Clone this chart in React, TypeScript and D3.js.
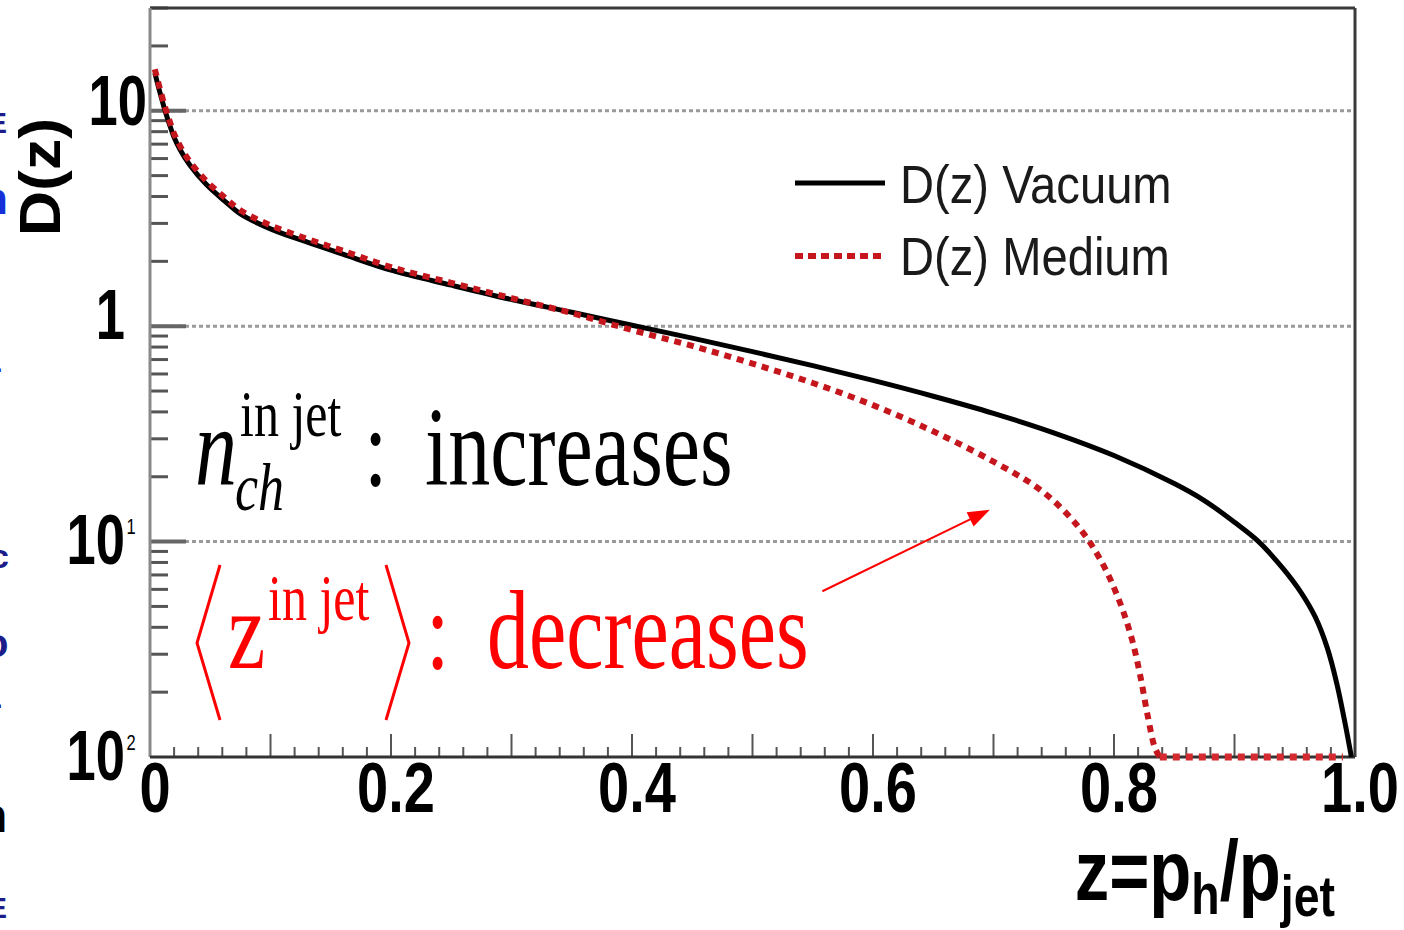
import React from "react";
import * as d3 from "d3";

// fragmentation function D(z), vacuum vs medium
const zVacuum = [
  0.004, 0.008, 0.0125, 0.0159, 0.0197, 0.0249, 0.033, 0.047, 0.062, 0.075, 0.1, 0.13, 0.16,
  0.2, 0.25, 0.3, 0.35, 0.4, 0.45, 0.5, 0.55, 0.6, 0.65, 0.7, 0.75, 0.8, 0.85, 0.875, 0.9, 0.92,
  0.94, 0.955, 0.967, 0.977, 0.985, 0.992, 0.997,
];
const dVacuum = [
  15.0, 12.3, 10.0, 8.73, 7.6, 6.61, 5.6, 4.53, 3.81, 3.32, 2.83, 2.46, 2.16, 1.82, 1.55, 1.33,
  1.16, 1.01, 0.88, 0.762, 0.656, 0.56, 0.473, 0.394, 0.32, 0.251, 0.186, 0.155, 0.123, 0.1,
  0.0753, 0.0583, 0.0447, 0.0321, 0.0218, 0.0141, 0.01,
];
const zMedium = [
  0.004, 0.008, 0.0125, 0.0159, 0.0197, 0.0249, 0.033, 0.047, 0.062, 0.075, 0.1, 0.13, 0.16,
  0.2, 0.25, 0.3, 0.35, 0.4, 0.45, 0.5, 0.55, 0.6, 0.65, 0.7, 0.74, 0.77, 0.79, 0.805, 0.815,
  0.822, 0.828, 0.834, 0.838, 0.99,
];
const dMedium = [
  15.6, 12.8, 10.4, 9.08, 7.9, 6.87, 5.82, 4.71, 3.96, 3.45, 2.94, 2.55, 2.24, 1.88, 1.59, 1.35,
  1.15, 0.96, 0.81, 0.67, 0.545, 0.43, 0.325, 0.235, 0.172, 0.118, 0.08, 0.052, 0.035, 0.0235,
  0.0155, 0.011, 0.01, 0.01,
];

const xTickValues = [0, 0.2, 0.4, 0.6, 0.8, 1.0];
const xTickLabels = ["0", "0.2", "0.4", "0.6", "0.8", "1.0"];
const yDecades = [10, 1, 0.1, 0.01];
const yDecadeBase = ["10", "1", "10", "10"];
const yDecadeSup = ["", "", "1", "2"];
const legendLabels = ["D(z) Vacuum", "D(z) Medium"];
// arrow in data units: [z, D]
const arrowFrom = [0.558, 0.0588];
const arrowTo = [0.697, 0.1406];

// cropped slide text on the far left edge
const edgeChars = ["E", "n", "-", "c", "o", "-", "n", "E"];
const edgeColors = ["#1c1c8a", "#1530d8", "#1530d8", "#1c1c8a", "#1c1c8a", "#1c1c8a", "#000", "#1c1c8a"];

const W = 1404;
const H = 930;
const left = 150;
const right = 1355;
const top = 8;
const bottom = 757;

const sans = "'Liberation Sans', Arial, sans-serif";
const serif = "'Liberation Serif', 'Times New Roman', serif";
const red = "#ff0000";

export default function App() {
  const x = d3.scaleLinear().domain([0, 1]).range([left, right]);
  const y = d3.scaleLog().domain([0.01, 30]).range([bottom, top]);

  const line = d3
    .line<[number, number]>()
    .x((d) => x(d[0]))
    .y((d) => y(d[1]))
    .curve(d3.curveCatmullRom.alpha(0.5));
  const straight = d3
    .line<[number, number]>()
    .x((d) => x(d[0]))
    .y((d) => y(d[1]));

  const vac = zVacuum.map((z, i) => [z, dVacuum[i]] as [number, number]);
  const med = zMedium.map((z, i) => [z, dMedium[i]] as [number, number]);
  // medium sits on the lower edge after it hits the axis minimum
  const medCurve = med.slice(0, med.length - 1);
  const medFlat = med.slice(med.length - 2);

  const minorY: number[] = [];
  [0.01, 0.1, 1, 10].forEach((d) => {
    for (let k = 2; k <= 9; k++) if (k * d <= 30) minorY.push(k * d);
  });
  const xTicks = d3.range(0, 51);

  const ax0 = x(arrowFrom[0]);
  const ay0 = y(arrowFrom[1]);
  const ax1 = x(arrowTo[0]);
  const ay1 = y(arrowTo[1]);
  const ang = Math.atan2(ay1 - ay0, ax1 - ax0);
  const hl = 22;
  const hw = 8;
  const head = [
    [ax1, ay1],
    [ax1 - hl * Math.cos(ang) + hw * Math.sin(ang), ay1 - hl * Math.sin(ang) - hw * Math.cos(ang)],
    [ax1 - hl * Math.cos(ang) - hw * Math.sin(ang), ay1 - hl * Math.sin(ang) + hw * Math.cos(ang)],
  ]
    .map((p) => p.join(","))
    .join(" ");

  const labelNudge = [14, 13, 22, 23];
  const labelRight = [147, 125, 125, 125];
  const edgeY = [133, 214, 378, 568, 657, 714, 832, 918];
  const edgeX = [-13, -19, -8, -10, -16, -8, -22, -13];
  const edgeSize = [30, 44, 30, 34, 40, 30, 48, 30];

  return (
    <svg
      width={W}
      height={H}
      style={{ position: "absolute", left: 0, top: 0, background: "#fff" }}
    >
      <rect x={0} y={0} width={W} height={H} fill="#fff" />

      {edgeChars.map((c, i) => (
        <text
          key={"e" + i}
          x={edgeX[i]}
          y={edgeY[i]}
          fontFamily={sans}
          fontWeight="bold"
          fontSize={edgeSize[i]}
          fill={edgeColors[i]}
        >
          {c}
        </text>
      ))}

      {/* grid lines at decades */}
      {yDecades.slice(0, 3).map((v) => (
        <line
          key={"g" + v}
          x1={left}
          x2={right}
          y1={y(v)}
          y2={y(v)}
          stroke="#9a9a9a"
          strokeWidth={3}
          strokeDasharray="4,3"
        />
      ))}

      {/* y ticks */}
      {minorY.map((v) => (
        <line key={"my" + v} x1={left} x2={left + 18} y1={y(v)} y2={y(v)} stroke="#555" strokeWidth={3} />
      ))}
      {yDecades.slice(0, 3).map((v) => (
        <line key={"My" + v} x1={left} x2={left + 36} y1={y(v)} y2={y(v)} stroke="#666" strokeWidth={4} />
      ))}

      {/* x ticks */}
      {xTicks.map((i) => (
        <line
          key={"xt" + i}
          x1={x(i * 0.02)}
          x2={x(i * 0.02)}
          y1={bottom}
          y2={bottom - (i % 5 === 0 ? 23 : 10)}
          stroke="#555"
          strokeWidth={2}
        />
      ))}

      {/* frame */}
      <line x1={left} x2={right} y1={top} y2={top} stroke="#3a3a3a" strokeWidth={3} />
      <line x1={right} x2={right} y1={top} y2={bottom} stroke="#3a3a3a" strokeWidth={3} />
      <line x1={left} x2={left} y1={top} y2={bottom} stroke="#8a8a8a" strokeWidth={3} />
      <line x1={left} x2={right} y1={bottom} y2={bottom} stroke="#333" strokeWidth={3} />

      {/* curves */}
      <path d={line(vac) || ""} fill="none" stroke="#000" strokeWidth={5} />
      <path d={line(medCurve) || ""} fill="none" stroke="#c4161c" strokeWidth={6} strokeDasharray="7,6" />
      <path d={straight(medFlat) || ""} fill="none" stroke="#d42a30" strokeWidth={7} strokeDasharray="7,6" />

      {/* y labels */}
      {yDecades.map((v, i) => (
        <g key={"yl" + v} transform={`translate(${labelRight[i]},${y(v) + labelNudge[i]}) scale(0.75,1)`}>
          <text textAnchor="end" fontFamily={sans} fontWeight="bold" fontSize={70} fill="#000">
            {yDecadeBase[i]}
          </text>
          {yDecadeSup[i] && (
            <text x={2} y={-30} fontFamily={sans} fontSize={22} fill="#000">
              {yDecadeSup[i]}
            </text>
          )}
        </g>
      ))}

      {/* x labels */}
      {xTickValues.map((v, i) => (
        <g key={"xl" + v} transform={`translate(${x(v) + 5},812) scale(0.8,1)`}>
          <text textAnchor="middle" fontFamily={sans} fontWeight="bold" fontSize={70} fill="#000">
            {xTickLabels[i]}
          </text>
        </g>
      ))}

      {/* axis titles */}
      <g transform="translate(1335,900) scale(0.8,1)">
        <text textAnchor="end" fontFamily={sans} fontWeight="bold" fontSize={86} fill="#000">
          z=p
          <tspan fontSize={58} dy={14}>h</tspan>
          <tspan fontSize={86} dy={-14}>/p</tspan>
          <tspan fontSize={58} dy={16}>jet</tspan>
        </text>
      </g>
      <g transform="translate(60,177) rotate(-90) scale(1.1,1)">
        <text textAnchor="middle" fontFamily={sans} fontWeight="bold" fontSize={57} fill="#000">
          D(z)
        </text>
      </g>

      {/* legend */}
      <line x1={795} x2={885} y1={183} y2={183} stroke="#000" strokeWidth={5} />
      <line x1={795} x2={885} y1={256} y2={256} stroke="#c4161c" strokeWidth={6} strokeDasharray="8,5" />
      {legendLabels.map((t, i) => (
        <g key={t} transform={`translate(900,${203 + i * 72}) scale(0.89,1)`}>
          <text fontFamily={sans} fontSize={53} fill="#1a1a1a">
            {t}
          </text>
        </g>
      ))}

      {/* annotation: n_ch^{in jet} : increases */}
      <g transform="translate(195,485) scale(1,1.33)">
        <text fontFamily={serif} fontStyle="italic" fontSize={84} fill="#000">n</text>
      </g>
      <g transform="translate(235,510) scale(1,1.3)">
        <text fontFamily={serif} fontStyle="italic" fontSize={52} fill="#000">ch</text>
      </g>
      <g transform="translate(240,436) scale(1,1.33)">
        <text fontFamily={serif} fontSize={50} fill="#000">in jet</text>
      </g>
      <g transform="translate(364,485) scale(1,1.33)">
        <text fontFamily={serif} fontSize={84} fill="#000">:</text>
      </g>
      <g transform="translate(425,485) scale(1,1.33)">
        <text fontFamily={serif} fontSize={84} fill="#000">increases</text>
      </g>

      {/* annotation: <z^{in jet}> : decreases */}
      <polyline points="220,565 197,643 220,720" fill="none" stroke={red} strokeWidth={3} />
      <polyline points="386,565 409,643 386,720" fill="none" stroke={red} strokeWidth={3} />
      <g transform="translate(228,668) scale(1,1.33)">
        <text fontFamily={serif} fontSize={84} fill={red}>z</text>
      </g>
      <g transform="translate(268,620) scale(1,1.33)">
        <text fontFamily={serif} fontSize={50} fill={red}>in jet</text>
      </g>
      <g transform="translate(426,668) scale(1,1.33)">
        <text fontFamily={serif} fontSize={84} fill={red}>:</text>
      </g>
      <g transform="translate(487,668) scale(1,1.33)">
        <text fontFamily={serif} fontSize={84} fill={red}>decreases</text>
      </g>

      {/* arrow */}
      <line
        x1={ax0}
        y1={ay0}
        x2={ax1 - 14 * Math.cos(ang)}
        y2={ay1 - 14 * Math.sin(ang)}
        stroke={red}
        strokeWidth={2}
      />
      <polygon points={head} fill={red} />
    </svg>
  );
}
